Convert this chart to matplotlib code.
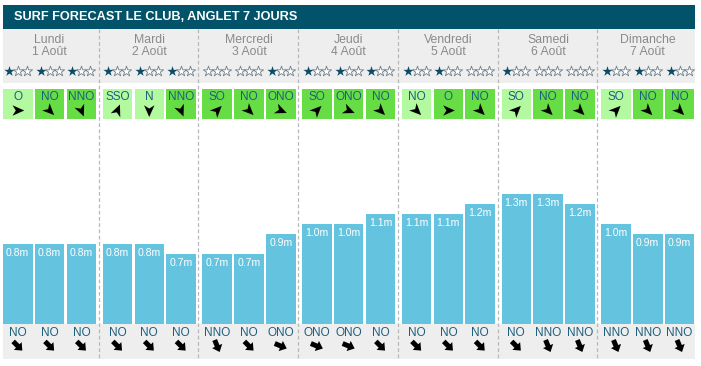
import numpy as np
import matplotlib.pyplot as plt
from matplotlib.patches import Rectangle, Polygon

# data
days = ["Lundi", "Mardi", "Mercredi", "Jeudi", "Vendredi", "Samedi", "Dimanche"]
dates = ["1 Août", "2 Août", "3 Août", "4 Août", "5 Août", "6 Août", "7 Août"]
wave_height = [
    [0.8, 0.8, 0.8],
    [0.8, 0.8, 0.7],
    [0.7, 0.7, 0.9],
    [1.0, 1.0, 1.1],
    [1.1, 1.1, 1.2],
    [1.3, 1.3, 1.2],
    [1.0, 0.9, 0.9],
]
stars = [
    [1, 1, 1],
    [1, 1, 1],
    [0, 0, 1],
    [1, 1, 1],
    [1, 1, 0],
    [1, 0, 0],
    [1, 1, 1],
]
wind_dir = [
    ["O", "NO", "NNO"],
    ["SSO", "N", "NNO"],
    ["SO", "NO", "ONO"],
    ["SO", "ONO", "NO"],
    ["NO", "O", "NO"],
    ["SO", "NO", "NO"],
    ["SO", "NO", "NO"],
]
# 0 = light wind (pale box), 1 = stronger (bright box)
wind_level = [
    [0, 1, 1],
    [0, 0, 1],
    [1, 1, 1],
    [1, 1, 1],
    [0, 1, 1],
    [0, 1, 1],
    [0, 1, 1],
]
swell_dir = [
    ["NO", "NO", "NO"],
    ["NO", "NO", "NO"],
    ["NNO", "NO", "ONO"],
    ["ONO", "ONO", "NO"],
    ["NO", "NO", "NO"],
    ["NO", "NNO", "NNO"],
    ["NNO", "NNO", "NNO"],
]

compass = {"N": 0, "NNE": 22.5, "NE": 45, "ENE": 67.5, "E": 90, "ESE": 112.5,
           "SE": 135, "SSE": 157.5, "S": 180, "SSO": 202.5, "SO": 225,
           "OSO": 247.5, "O": 270, "ONO": 292.5, "NO": 315, "NNO": 337.5}

TITLE_BG = "#02536a"
HEAD_BG = "#eeeeee"
BAR_COL = "#64c3de"
TXT_BLUE = "#1d5f7e"
STAR_COL = "#0d4a66"
GREEN_LIGHT = "#b3f99f"
GREEN_BRIGHT = "#67dd45"

plt.rcParams["font.family"] = ["Liberation Sans", "DejaVu Sans"]

W, H = 701, 366
fig = plt.figure(figsize=(W / 100, H / 100), dpi=100)
ax = fig.add_axes([0, 0, 1, 1])
ax.set_xlim(0, W)
ax.set_ylim(H, 0)
ax.axis("off")

x0, day_w, pitch, bw = 3, 99.7, 31.8, 29.5
bar_base = 324


def slot_left(d, k):
    return x0 + day_w * d + pitch * k


def nav_arrow(cx, cy, deg, size=6.5):
    t = np.radians(deg)
    dv = np.array([np.sin(t), -np.cos(t)])
    pv = np.array([np.cos(t), np.sin(t)])
    c = np.array([cx, cy])
    pts = [c + dv * size, c - dv * size * 0.8 + pv * size * 0.8,
           c - dv * size * 0.3, c - dv * size * 0.8 - pv * size * 0.8]
    ax.add_patch(Polygon(pts, closed=True, color="black", lw=0, zorder=5))


def block_arrow(cx, cy, deg, size=6.5):
    t = np.radians(deg)
    dv = np.array([np.sin(t), -np.cos(t)])
    pv = np.array([np.cos(t), np.sin(t)])
    c = np.array([cx, cy])
    sw, hw = 2.5, 5.5
    pts = [c - dv * size + pv * sw, c + pv * sw, c + pv * hw, c + dv * size,
           c - pv * hw, c - pv * sw, c - dv * size - pv * sw]
    ax.add_patch(Polygon(pts, closed=True, color="black", lw=0, zorder=5))


# title bar and grey bands
ax.add_patch(Rectangle((3, 5), 692, 24, color=TITLE_BG, lw=0))
ax.text(14, 17, "SURF FORECAST LE CLUB, ANGLET 7 JOURS", color="white",
        fontsize=9.2, fontweight="bold", va="center", ha="left")
ax.add_patch(Rectangle((3, 29), 692, 54, color=HEAD_BG, lw=0))
ax.add_patch(Rectangle((3, bar_base), 692, 35, color=HEAD_BG, lw=0))

for d in range(len(days)):
    cx = slot_left(d, 0) + (2 * pitch + bw) / 2
    ax.text(cx, 40, days[d], color="#8a8a8a", fontsize=8.8, ha="center", va="center")
    ax.text(cx, 52, dates[d], color="#8a8a8a", fontsize=8.8, ha="center", va="center")
    if d > 0:
        xl = slot_left(d, 0) - 4
        ax.plot([xl, xl], [29, 359], color="#b8b8b8", lw=0.9, ls=(0, (3, 2)), zorder=1)
    for k in range(3):
        left = slot_left(d, k)
        bc = left + bw / 2
        # stars
        sx = [bc - 9, bc, bc + 9]
        n = stars[d][k]
        for i in range(3):
            if i < n:
                ax.scatter(sx[i], 71, marker="*", s=60, color=STAR_COL, lw=0, zorder=4)
            else:
                ax.scatter(sx[i], 71, marker="*", s=60, facecolor="white",
                           edgecolor="#6f7f88", lw=0.6, zorder=4)
        # wind box
        col = GREEN_BRIGHT if wind_level[d][k] else GREEN_LIGHT
        ax.add_patch(Rectangle((left, 89), bw, 30, color=col, lw=0))
        ax.text(bc, 97.5, wind_dir[d][k], color=TXT_BLUE, fontsize=8.5, ha="center", va="center")
        nav_arrow(bc, 110.5, compass[wind_dir[d][k]] + 180)
        # swell
        ax.text(bc, 332.5, swell_dir[d][k], color=TXT_BLUE, fontsize=8.5, ha="center", va="center")
        block_arrow(bc, 346, compass[swell_dir[d][k]] + 180)

# bars on their own axes, in metres
bax = fig.add_axes([0, (H - bar_base) / H, 1, 200 / H])
bax.set_xlim(0, W)
bax.set_ylim(0, 2.0)
bax.axis("off")
bax.patch.set_alpha(0)
xs, hs = [], []
for d in range(len(days)):
    for k in range(3):
        xs.append(slot_left(d, k))
        hs.append(wave_height[d][k])
bars = bax.bar(xs, hs, width=bw, align="edge", color=BAR_COL, lw=0)
for xl, h in zip(xs, hs):
    bax.annotate(f"{h:.1f}m", (xl + bw / 2, h), xytext=(0, -6.8), textcoords="offset points",
                 color="white", fontsize=7.6, ha="center", va="center")

fig.savefig("out.png", dpi=100)
